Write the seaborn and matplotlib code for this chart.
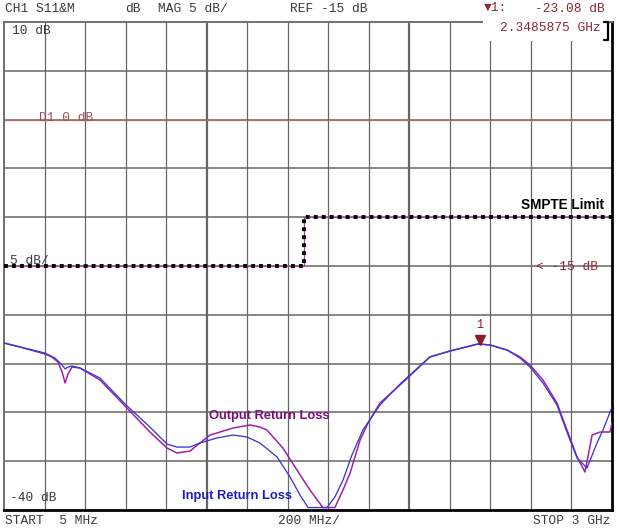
import numpy as np
import matplotlib
matplotlib.use("Agg")
import matplotlib.pyplot as plt
import seaborn as sns
from matplotlib.patches import Rectangle

# DATA

# Output return loss (purple trace), GHz / dB
out_freq = [0.005, 0.084, 0.207, 0.241, 0.271, 0.291, 0.306, 0.320, 0.340, 0.379,
            0.478, 0.606, 0.724, 0.808, 0.857, 0.921, 0.970, 1.020, 1.133, 1.217,
            1.266, 1.300, 1.379, 1.448, 1.512, 1.576, 1.635, 1.675, 1.710, 1.759,
            1.798, 1.857, 1.956, 2.103, 2.202, 2.340, 2.399, 2.483, 2.547, 2.596,
            2.660, 2.729, 2.778, 2.828, 2.867, 2.902, 2.941, 2.990, 3.000]
out_db = [-22.89, -23.30, -24.02, -24.32, -24.84, -25.86, -26.99, -26.07, -25.35, -25.45,
          -26.68, -29.45, -32.01, -33.65, -34.16, -33.96, -33.14, -32.32, -31.60, -31.29,
          -31.50, -31.80, -33.65, -35.90, -37.95, -39.75, -39.75, -37.95, -36.21, -32.83,
          -31.09, -29.04, -27.19, -24.32, -23.71, -22.99, -23.09, -23.61, -24.32, -25.14,
          -26.68, -29.04, -31.80, -34.57, -36.11, -32.32, -32.01, -32.01, -31.09]

# Input return loss (blue trace), GHz / dB
in_freq = [0.005, 0.084, 0.207, 0.256, 0.291, 0.306, 0.320, 0.340, 0.379, 0.478,
           0.606, 0.724, 0.808, 0.857, 0.921, 0.970, 1.054, 1.133, 1.202, 1.266,
           1.350, 1.414, 1.463, 1.503, 1.596, 1.635, 1.675, 1.719, 1.773, 1.857,
           1.956, 2.103, 2.202, 2.340, 2.399, 2.483, 2.547, 2.596, 2.660, 2.729,
           2.778, 2.828, 2.877, 2.926, 2.956, 3.000]
in_db = [-22.89, -23.30, -23.92, -24.43, -25.14, -25.55, -25.35, -25.25, -25.45, -26.48,
         -29.24, -31.50, -33.24, -33.55, -33.55, -33.14, -32.62, -32.32, -32.52, -33.14,
         -34.57, -36.62, -38.46, -39.75, -39.75, -38.67, -36.93, -34.37, -31.80, -29.24,
         -27.09, -24.32, -23.71, -22.99, -23.09, -23.61, -24.43, -25.35, -26.99, -29.24,
         -32.01, -34.67, -35.70, -33.14, -31.80, -29.45]

# SMPTE limit line
limit_freq = [0.005, 1.485, 1.485, 3.0]
limit_db = [-15, -15, -10, -10]

marker_freq = 2.3485875
marker_db = -23.08

start_f, stop_f = 0.005, 3.0
top_db, bottom_db = 10, -40

# STYLE

sns.set_style("white")
plt.rcParams["font.family"] = ["Liberation Mono", "DejaVu Sans"]

W, H = 617, 528
fig = plt.figure(figsize=(W / 100, H / 100), dpi=100)
fig.patch.set_facecolor("white")


def fx(px):
    return px / W


def fy(py):
    return 1 - py / H


ax = fig.add_axes([fx(4), fy(510), (612 - 4) / W, (510 - 22) / H])
ax.set_xlim(start_f, stop_f)
ax.set_ylim(bottom_db, top_db)

# graticule: 15 x 10 divisions
xg = np.linspace(start_f, stop_f, 16)
yg = np.linspace(bottom_db, top_db, 11)
for i, xv in enumerate(xg[1:-1], start=1):
    ax.axvline(xv, color="#666666", lw=1.6 if i % 5 == 0 else 0.9, zorder=1)
for yv in yg[1:-1]:
    ax.axhline(yv, color="#666666", lw=1.1, zorder=1)

ax.set_xticks([])
ax.set_yticks([])
ax.set_xlabel("")
ax.set_ylabel("")

for side in ["left", "top"]:
    ax.spines[side].set_color("#707070")
    ax.spines[side].set_linewidth(1.4)
for side in ["right", "bottom"]:
    ax.spines[side].set_color("black")
    ax.spines[side].set_linewidth(2.0)

# display line D1
ax.axhline(0, color="#b86a6a", lw=0.9, zorder=2)

# limit line
ax.plot(limit_freq, limit_db, color="#b040a0", lw=0.8, zorder=3)
ax.plot(limit_freq, limit_db, color="black", lw=2.8,
        linestyle=(0, (1, 1.05)), dash_capstyle="butt", zorder=4)

# traces
sns.lineplot(x=out_freq, y=out_db, ax=ax, color="#a020a8", lw=1.1,
             sort=False, estimator=None, zorder=5)
sns.lineplot(x=in_freq, y=in_db, ax=ax, color="#3a3ad0", lw=0.95,
             sort=False, estimator=None, zorder=6)

# marker 1
ax.plot([marker_freq], [marker_db + 0.5], marker="v", ms=6.5,
        color="#8b1a2a", ls="none", zorder=7)
ax.text(marker_freq, marker_db + 1.4, "1", color="#8b1a2a", fontsize=8.5,
        ha="center", va="bottom", zorder=7)

# annotations
bold = dict(family=["Liberation Sans", "DejaVu Sans"], fontweight="bold")
fig.text(fx(521), fy(205), "SMPTE Limit", color="black", fontsize=9.8,
         va="center", **bold)
fig.text(fx(209), fy(416), "Output Return Loss", color="#7d0a7d", fontsize=9.3,
         va="center", **bold)
fig.text(fx(182), fy(496), "Input Return Loss", color="#1c1cc4", fontsize=9.3,
         va="center", **bold)

# white area behind the marker readout
fig.patches.append(Rectangle((fx(483), fy(41)), (606 - 483) / W, 41 / H,
                             transform=fig.transFigure, facecolor="white",
                             edgecolor="none", zorder=5))
fig.lines.append(plt.Line2D([fx(604), fx(608), fx(608), fx(604)],
                            [fy(22), fy(22), fy(40), fy(40)],
                            transform=fig.transFigure, color="black", lw=1.6,
                            zorder=6))

mono = dict(fontsize=9.3, va="center", zorder=7)
dark = "#3a3a3a"
red = "#8b2a35"
fig.text(fx(5), fy(9), "CH1 S11&M", color=dark, **mono)
fig.text(fx(125), fy(9), "dB", color=dark, **mono)
fig.text(fx(158), fy(9), "MAG 5 dB/", color=dark, **mono)
fig.text(fx(290), fy(9), "REF -15 dB", color=dark, **mono)
fig.text(fx(484), fy(8), "▼1:", color=red, **mono)
fig.text(fx(535), fy(9), "-23.08 dB", color=red, **mono)
fig.text(fx(500), fy(28), "2.3485875 GHz", color=red, **mono)

fig.text(fx(12), fy(31), "10 dB", color=dark, **mono)
fig.text(fx(39), fy(118), "D1 0 dB", color="#a05050", **mono)
fig.text(fx(10), fy(261), "5 dB/", color=dark, **mono)
fig.text(fx(536), fy(267), "< -15 dB", color=red, **mono)
fig.text(fx(10), fy(498), "-40 dB", color=dark, **mono)

fig.text(fx(5), fy(521), "START  5 MHz", color=dark, **mono)
fig.text(fx(278), fy(521), "200 MHz/", color=dark, **mono)
fig.text(fx(533), fy(521), "STOP 3 GHz", color=dark, **mono)

plt.savefig("out.png", dpi=100)
plt.close()
